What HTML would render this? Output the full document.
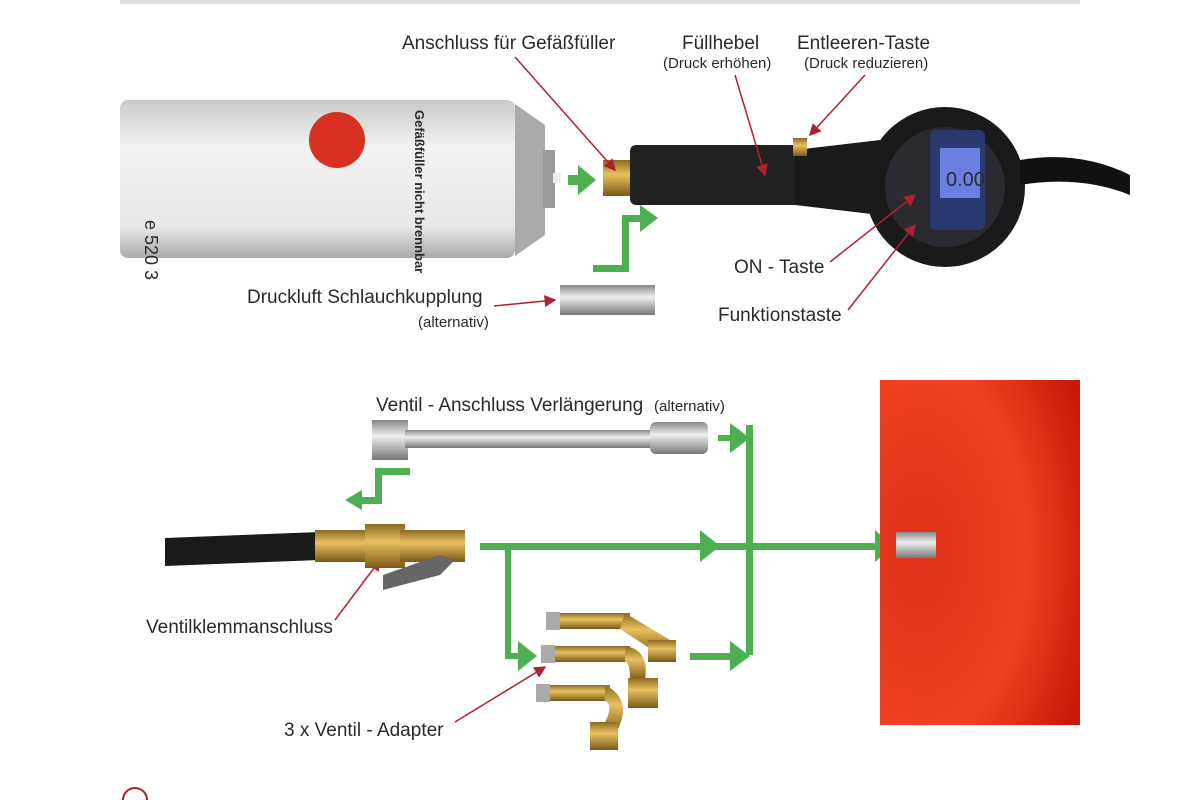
<!DOCTYPE html>
<html><head><meta charset="utf-8"><style>
body{margin:0;background:#fff}
svg{display:block}
text{font-family:"Liberation Sans",sans-serif;fill:#2a2a2a}
</style></head><body>
<svg width="1200" height="800" viewBox="0 0 1200 800">
<defs>
<linearGradient id="can" x1="0" y1="0" x2="0" y2="1"><stop offset="0" stop-color="#c9c9c9"/><stop offset=".3" stop-color="#f2f2f2"/><stop offset=".8" stop-color="#e8e8e8"/><stop offset="1" stop-color="#aaa"/></linearGradient>
<linearGradient id="metal" x1="0" y1="0" x2="0" y2="1"><stop offset="0" stop-color="#888"/><stop offset=".4" stop-color="#eee"/><stop offset="1" stop-color="#777"/></linearGradient>
<linearGradient id="brass" x1="0" y1="0" x2="0" y2="1"><stop offset="0" stop-color="#8a6a20"/><stop offset=".4" stop-color="#e8c060"/><stop offset="1" stop-color="#7a5a18"/></linearGradient>
<radialGradient id="red" cx=".2" cy=".5" r=".9"><stop offset="0" stop-color="#e0301a"/><stop offset=".6" stop-color="#f04020"/><stop offset="1" stop-color="#c81808"/></radialGradient>
<marker id="ar" markerWidth="8" markerHeight="8" refX="7" refY="4" orient="auto"><path d="M0,0L8,4L0,8z" fill="#b02030"/></marker>
</defs>
<rect x="120" y="0" width="960" height="4" fill="#ddd"/>
<rect x="120" y="100" width="395" height="158" rx="8" fill="url(#can)"/>
<path d="M515,104 L545,125 L545,235 L515,256z" fill="#aaa"/>
<rect x="543" y="150" width="12" height="58" fill="#999"/>
<rect x="553" y="173" width="8" height="10" fill="#eee"/>
<circle cx="337" cy="140" r="28" fill="#d83020"/>
<text x="145" y="220" font-size="18" transform="rotate(90 145 220)" fill="#333">e 520 3</text>
<text x="415" y="110" font-size="13" font-weight="bold" transform="rotate(90 415 110)">Gefäßfüller nicht brennbar</text>
<rect x="603" y="160" width="28" height="36" fill="url(#brass)"/>
<rect x="630" y="145" width="170" height="60" rx="6" fill="#222"/>
<path d="M795,150 L880,140 L880,215 L795,205z" fill="#1a1a1a"/>
<rect x="793" y="138" width="14" height="18" fill="url(#brass)"/>
<circle cx="945" cy="187" r="80" fill="#1a1a1a"/>
<circle cx="945" cy="187" r="60" fill="#2a2a30"/>
<rect x="930" y="130" width="55" height="100" rx="6" fill="#2a3a70"/>
<rect x="940" y="148" width="40" height="50" fill="#6a80e0"/>
<text x="946" y="186" font-size="20" fill="#102040">0.00</text>
<path d="M1020,160 Q1080,150 1130,175 L1130,195 Q1080,175 1020,185z" fill="#111"/>
<rect x="560" y="285" width="95" height="30" fill="url(#metal)"/>
<text x="402" y="49" font-size="19">Anschluss für Gefäßfüller</text>
<text x="682" y="49" font-size="19">Füllhebel</text>
<text x="663" y="68" font-size="15">(Druck erhöhen)</text>
<text x="797" y="49" font-size="19">Entleeren-Taste</text>
<text x="804" y="68" font-size="15">(Druck reduzieren)</text>
<text x="734" y="273" font-size="19">ON - Taste</text>
<text x="718" y="321" font-size="19">Funktionstaste</text>
<text x="247" y="303" font-size="19">Druckluft Schlauchkupplung</text>
<text x="418" y="327" font-size="15">(alternativ)</text>
<g stroke="#b02030" stroke-width="1.5" fill="none" marker-end="url(#ar)">
<line x1="515" y1="57" x2="615" y2="170"/>
<line x1="735" y1="75" x2="765" y2="175"/>
<line x1="865" y1="75" x2="810" y2="135"/>
<line x1="830" y1="262" x2="915" y2="195"/>
<line x1="848" y1="310" x2="915" y2="225"/>
<line x1="494" y1="306" x2="555" y2="300"/>
<line x1="335" y1="620" x2="380" y2="560"/>
<line x1="455" y1="722" x2="545" y2="667"/>
</g>
<g fill="#4caf50" stroke="none">
<rect x="568" y="175" width="12" height="10"/><path d="M578,165L596,180L578,195z"/>
<rect x="593" y="265" width="35" height="7"/><rect x="622" y="215" width="7" height="57"/><rect x="622" y="215" width="20" height="7"/><path d="M640,205L658,218L640,232z"/>
<rect x="375" y="468" width="35" height="7"/><rect x="375" y="468" width="7" height="35"/><rect x="362" y="497" width="20" height="7"/><path d="M362,490L345,500L362,510z"/>
<rect x="480" y="543" width="400" height="7"/>
<path d="M700,530L720,546L700,562z"/><path d="M875,530L893,546L875,562z"/>
<rect x="746" y="425" width="7" height="230"/>
<rect x="718" y="435" width="20" height="6"/><path d="M730,423L750,438L730,453z"/>
<rect x="690" y="653" width="40" height="7"/><path d="M730,641L750,656L730,671z"/>
<rect x="505" y="543" width="6" height="115"/><rect x="505" y="653" width="18" height="6"/><path d="M518,641L537,656L518,671z"/>
</g>
<rect x="372" y="420" width="36" height="40" fill="url(#metal)"/>
<rect x="405" y="430" width="250" height="18" fill="url(#metal)"/>
<rect x="650" y="422" width="58" height="32" rx="6" fill="url(#metal)"/>
<text x="376" y="411" font-size="19">Ventil - Anschluss Verlängerung</text>
<text x="654" y="411" font-size="15">(alternativ)</text>
<path d="M165,538 L320,532 L320,560 L165,566z" fill="#1a1a1a"/>
<rect x="315" y="530" width="55" height="32" fill="url(#brass)"/>
<rect x="365" y="524" width="40" height="44" fill="url(#brass)"/>
<rect x="400" y="530" width="65" height="32" fill="url(#brass)"/>
<path d="M383,590 L440,575 L455,560 L440,555 L383,575z" fill="#666"/>
<text x="146" y="633" font-size="19">Ventilklemmanschluss</text>
<g fill="url(#brass)">
<rect x="550" y="613" width="80" height="16"/><path d="M625,613 L670,640 L660,655 L620,629z"/><rect x="648" y="640" width="28" height="22"/>
<rect x="545" y="646" width="85" height="16"/><path d="M625,646 Q650,650 645,680 L630,680 Q630,662 625,662z"/><rect x="628" y="678" width="30" height="30"/>
<rect x="540" y="685" width="70" height="16"/><path d="M605,685 Q635,700 615,735 L602,728 Q615,705 605,701z"/><rect x="590" y="722" width="28" height="28"/>
</g>
<g fill="#aaa"><rect x="546" y="612" width="14" height="18"/><rect x="541" y="645" width="14" height="18"/><rect x="536" y="684" width="14" height="18"/></g>
<text x="284" y="736" font-size="19">3 x Ventil - Adapter</text>
<rect x="880" y="380" width="200" height="345" fill="url(#red)"/>
<rect x="896" y="532" width="40" height="26" fill="url(#metal)"/>
<circle cx="135" cy="800" r="12" fill="none" stroke="#b02030" stroke-width="2"/>
</svg>
</body></html>
